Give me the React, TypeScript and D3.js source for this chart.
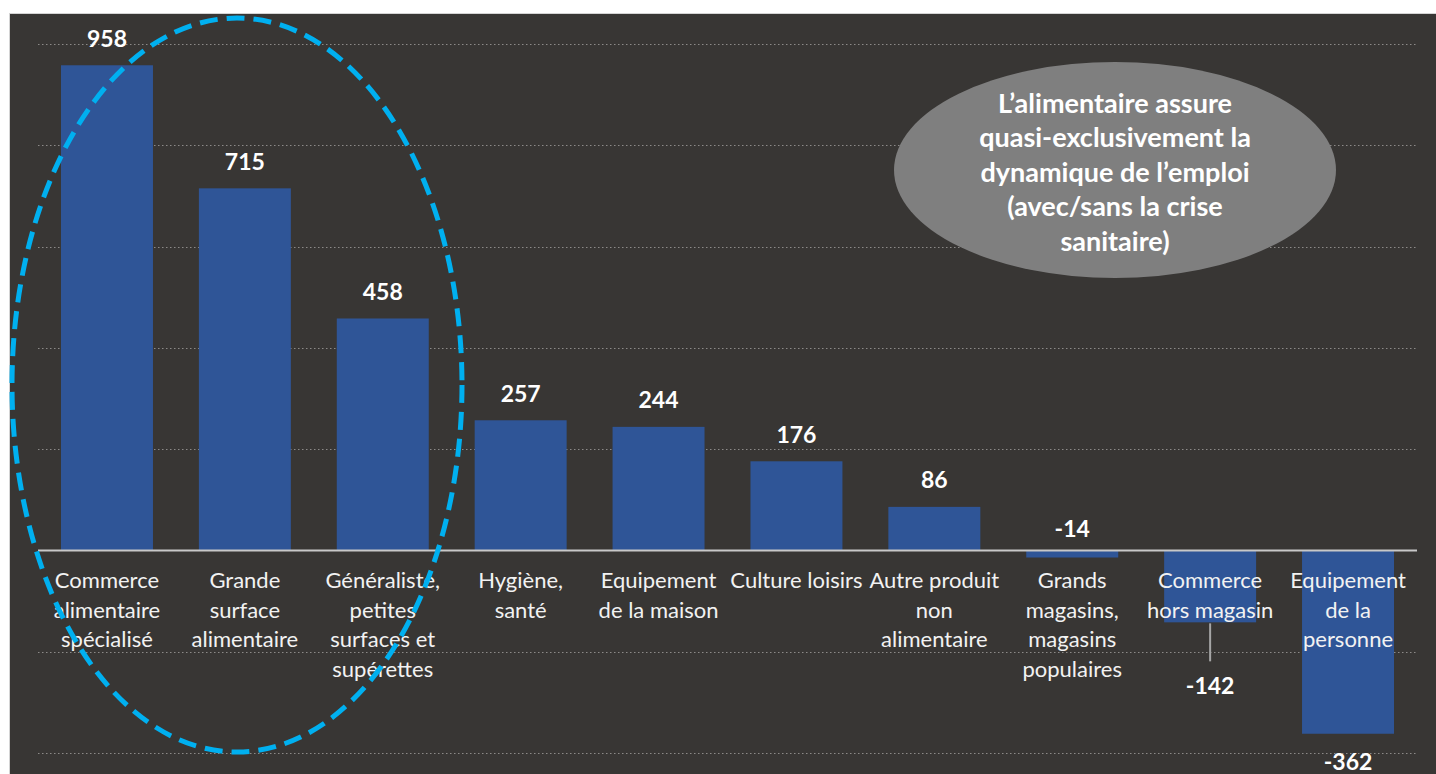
import React from "react";
import * as d3 from "d3";

const categories: string[] = [
  "Commerce\nalimentaire\nspécialisé",
  "Grande\nsurface\nalimentaire",
  "Généraliste,\npetites\nsurfaces et\nsupérettes",
  "Hygiène,\nsanté",
  "Equipement\nde la maison",
  "Culture loisirs",
  "Autre produit\nnon\nalimentaire",
  "Grands\nmagasins,\nmagasins\npopulaires",
  "Commerce\nhors magasin",
  "Equipement\nde la\npersonne",
];
const values: number[] = [958, 715, 458, 257, 244, 176, 86, -14, -142, -362];
const labelPlacement: string[] = [
  "outside", "outside", "outside", "outside", "outside", "outside", "outside",
  "aboveAxis", "leader", "outside",
];
const yTicks: number[] = [-400, -200, 0, 200, 400, 600, 800, 1000];
const calloutLines: string[] = [
  "L’alimentaire assure",
  "quasi-exclusivement la",
  "dynamique de l’emploi",
  "(avec/sans la crise",
  "sanitaire)",
];

const W = 1436;
const H = 774;
const FONT = "Lato, 'Open Sans', sans-serif";

export default function App() {
  const x = d3
    .scaleBand<number>()
    .domain(values.map((_, i) => i))
    .range([38, 1417])
    .paddingInner(0.333)
    .paddingOuter(0.1667);
  const y = d3.scaleLinear().domain([-400, 1000]).range([753, 44]);
  const y0 = y(0);

  return (
    <div style={{ position: "fixed", left: 0, top: 0 }}>
      <svg width={W} height={H} style={{ display: "block", background: "#fff" }}>
        <rect x={9.5} y={13.5} width={W} height={H} fill="#383634" stroke="#d4d4d4" strokeWidth={1} />
        {yTicks
          .filter((t) => t !== 0)
          .map((t) => (
            <line
              key={t}
              x1={38}
              x2={1417}
              y1={Math.round(y(t)) + 0.5}
              y2={Math.round(y(t)) + 0.5}
              stroke="#8c8a88"
              strokeWidth={1}
              strokeDasharray="1.5 2.5"
            />
          ))}
        {values.map((v, i) => (
          <rect
            key={i}
            x={x(i)}
            y={Math.min(y(v), y0)}
            width={x.bandwidth()}
            height={Math.abs(y(v) - y0)}
            fill="#2f5597"
          />
        ))}
        <line x1={38} x2={1417} y1={y0} y2={y0} stroke="#c8c8c8" strokeWidth={2} />
        {values.map((v, i) => {
          const cx = (x(i) as number) + x.bandwidth() / 2;
          const p = labelPlacement[i];
          let cy: number;
          if (p === "aboveAxis") cy = y0 - 22;
          else if (p === "leader") cy = y(v) + 63;
          else if (v >= 0) cy = y(v) - 27;
          else cy = y(v) + 28;
          return (
            <g key={i}>
              {p === "leader" && (
                <line x1={cx} x2={cx} y1={y(v) + 1} y2={y(v) + 39} stroke="#a6a6a6" strokeWidth={2} />
              )}
              <text
                x={cx}
                y={cy}
                dy="0.36em"
                textAnchor="middle"
                fill="#fff"
                fontFamily={FONT}
                fontWeight={700}
                fontSize={23}
              >
                {v}
              </text>
            </g>
          );
        })}
        {categories.map((c, i) => {
          const cx = (x(i) as number) + x.bandwidth() / 2;
          return (
            <text key={i} textAnchor="middle" fill="#f2f2f2" fontFamily={FONT} fontSize={22}>
              {c.split("\n").map((ln, j) => (
                <tspan key={j} x={cx} y={580 + j * 29.6} dy="0.36em">
                  {ln}
                </tspan>
              ))}
            </text>
          );
        })}
        <ellipse
          cx={237}
          cy={385}
          rx={225}
          ry={367}
          fill="none"
          stroke="#00b0f0"
          strokeWidth={5}
          strokeDasharray="18 9"
        />
        <ellipse cx={1115} cy={170} rx={221} ry={108} fill="#7f7f7f" />
        <text textAnchor="middle" fill="#fff" fontFamily={FONT} fontWeight={700} fontSize={27}>
          {calloutLines.map((ln, j) => (
            <tspan key={j} x={1115} y={103 + j * 34.5} dy="0.36em">
              {ln}
            </tspan>
          ))}
        </text>
      </svg>
    </div>
  );
}
